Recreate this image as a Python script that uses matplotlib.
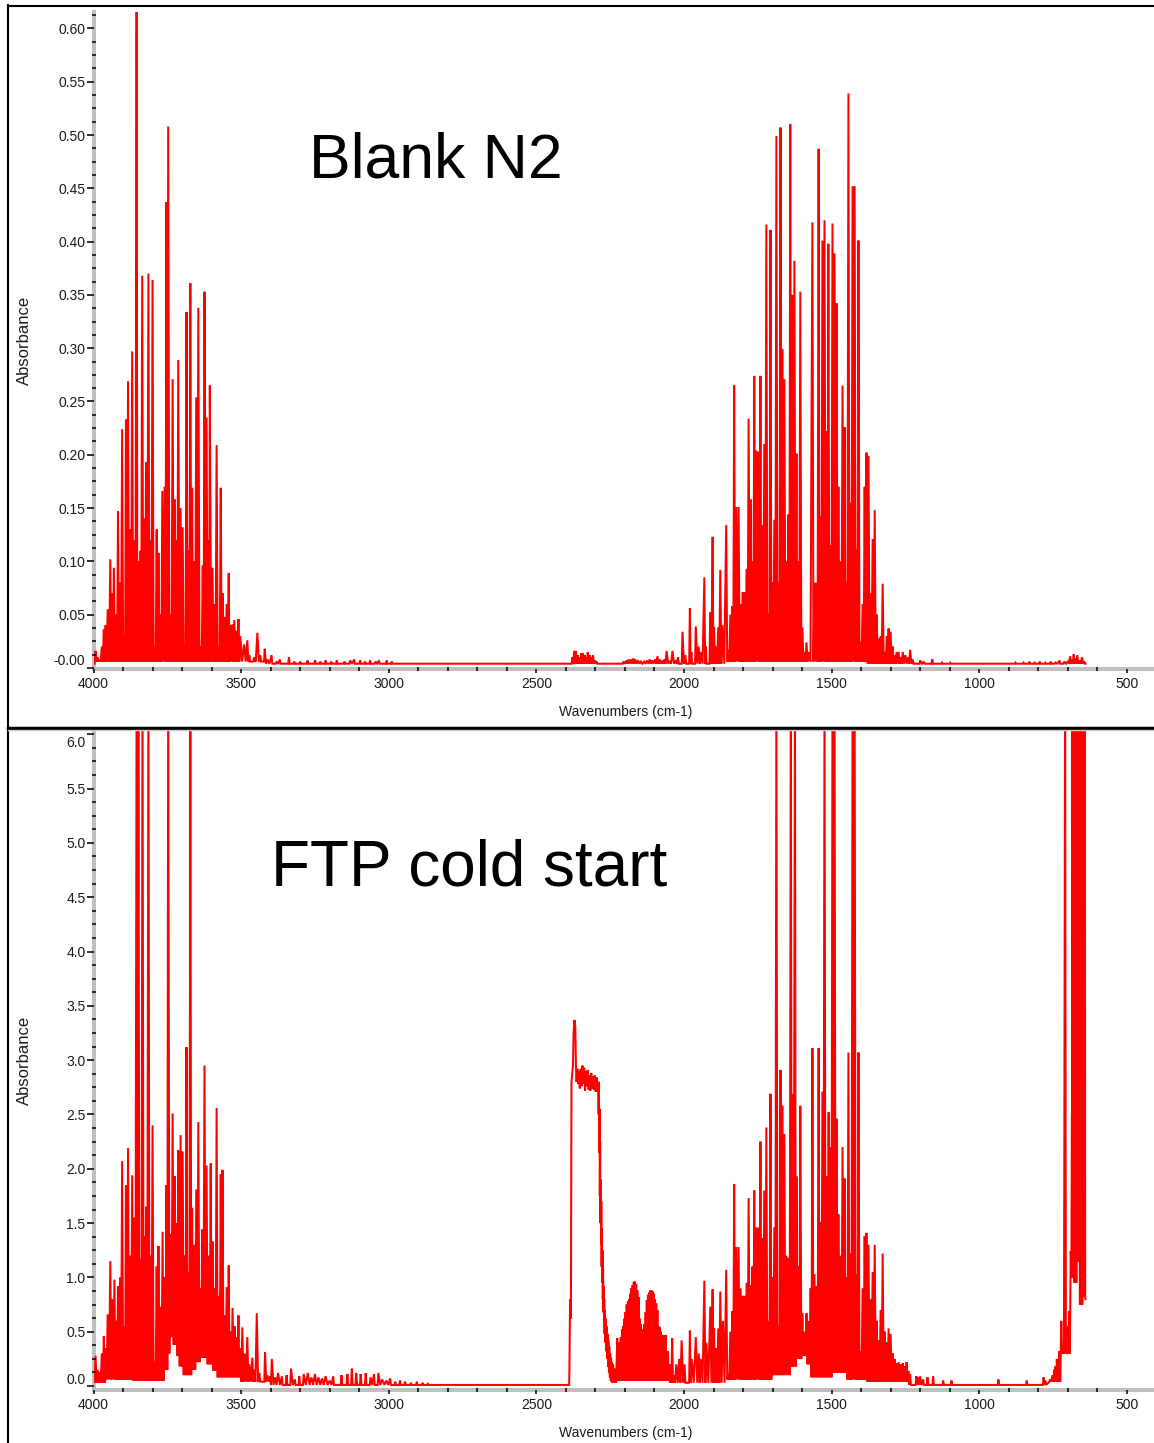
import numpy as np
import matplotlib
matplotlib.use("Agg")
import matplotlib.pyplot as plt
from matplotlib.ticker import FixedLocator, FixedFormatter, AutoMinorLocator
from matplotlib.lines import Line2D
from matplotlib.transforms import ScaledTranslation

plt.rcParams['font.family'] = ['Liberation Sans', 'DejaVu Sans']

# ---------------- data ----------------
# each entry: [wavenumber cm-1, absorbance at the line tip]
# "floor" = level the trace drops back to between lines, per region

X_TICKS = [4000, 3500, 3000, 2500, 2000, 1500, 1000, 500]
X_LABELS = ["4000", "3500", "3000", "2500", "2000", "1500", "1000", "500"]

TOP_Y_TICKS = [0.0, 0.05, 0.10, 0.15, 0.20, 0.25, 0.30, 0.35, 0.40, 0.45, 0.50, 0.55, 0.60]
TOP_Y_LABELS = ["-0.00", "0.05", "0.10", "0.15", "0.20", "0.25", "0.30", "0.35",
                "0.40", "0.45", "0.50", "0.55", "0.60"]
BOT_Y_TICKS = [0.0, 0.5, 1.0, 1.5, 2.0, 2.5, 3.0, 3.5, 4.0, 4.5, 5.0, 5.5, 6.0]
BOT_Y_LABELS = ["0.0", "0.5", "1.0", "1.5", "2.0", "2.5", "3.0", "3.5",
                "4.0", "4.5", "5.0", "5.5", "6.0"]

# --- Blank N2 ---
blank_water_hi = [
    [4000, 0.004], [3993, 0.016], [3986, 0.010], [3979, 0.008], [3972, 0.020], [3965, 0.036],
    [3959, 0.040], [3952, 0.055], [3943, 0.102], [3937, 0.070], [3931, 0.094], [3923, 0.050],
    [3917, 0.147], [3910, 0.080], [3903, 0.224], [3896, 0.030], [3890, 0.233], [3883, 0.269],
    [3876, 0.130], [3869, 0.297], [3862, 0.120], [3854, 0.620], [3849, 0.100], [3842, 0.110],
    [3835, 0.368], [3828, 0.140], [3822, 0.193], [3814, 0.370], [3807, 0.120], [3800, 0.364],
    [3793, 0.020], [3786, 0.130], [3780, 0.108], [3773, 0.050], [3767, 0.166], [3759, 0.170],
    [3753, 0.437], [3747, 0.508], [3739, 0.050], [3732, 0.271], [3725, 0.158], [3719, 0.120],
    [3713, 0.289], [3705, 0.150], [3698, 0.132], [3691, 0.020], [3685, 0.334], [3678, 0.110],
    [3672, 0.361], [3666, 0.169], [3659, 0.100], [3652, 0.254], [3645, 0.338], [3637, 0.020],
    [3630, 0.096], [3624, 0.353], [3617, 0.235], [3610, 0.120], [3606, 0.265], [3597, 0.094],
    [3590, 0.060], [3583, 0.209], [3576, 0.020], [3569, 0.169], [3563, 0.070], [3556, 0.048],
    [3549, 0.060], [3542, 0.089], [3537, 0.040], [3530, 0.041], [3523, 0.045], [3516, 0.035],
    [3509, 0.046], [3503, 0.030], [3490, 0.022], [3479, 0.026], [3472, 0.012], [3456, 0.010],
    [3445, 0.033], [3435, 0.012], [3420, 0.018], [3411, 0.008],
]
blank_noise = [
    [3397, 0.012], [3380, 0.006], [3369, 0.008], [3338, 0.010], [3320, 0.006], [3300, 0.006],
    [3275, 0.007], [3250, 0.007], [3232, 0.006], [3214, 0.007], [3195, 0.006], [3176, 0.007],
    [3150, 0.006], [3131, 0.007], [3117, 0.008], [3097, 0.007], [3080, 0.006], [3063, 0.007],
    [3045, 0.006], [3033, 0.007], [3007, 0.007], [2990, 0.006],
    [2378, 0.010], [2372, 0.016], [2366, 0.016], [2360, 0.012], [2354, 0.010], [2348, 0.014],
    [2342, 0.014], [2336, 0.012], [2330, 0.010], [2326, 0.015], [2320, 0.012], [2314, 0.010],
    [2308, 0.012], [2302, 0.007], [2296, 0.006],
    [2205, 0.006], [2195, 0.007], [2188, 0.008], [2180, 0.008], [2172, 0.009], [2165, 0.008],
    [2155, 0.007], [2146, 0.006], [2135, 0.006], [2125, 0.007], [2116, 0.008], [2108, 0.007],
    [2098, 0.008], [2090, 0.011], [2082, 0.008], [2072, 0.007], [2066, 0.008], [2059, 0.016],
    [2048, 0.006], [2039, 0.016], [2028, 0.007], [2020, 0.010],
]
blank_water_lo = [
    [2005, 0.034], [1995, 0.012], [1980, 0.056], [1975, 0.015], [1960, 0.039], [1950, 0.020],
    [1943, 0.015], [1931, 0.085], [1926, 0.020], [1911, 0.052], [1903, 0.123], [1898, 0.038],
    [1891, 0.020], [1884, 0.038], [1877, 0.092], [1870, 0.040], [1857, 0.134], [1850, 0.017],
    [1843, 0.050], [1836, 0.058], [1830, 0.265], [1823, 0.151], [1815, 0.151], [1808, 0.060],
    [1801, 0.071], [1795, 0.071], [1788, 0.093], [1781, 0.234], [1774, 0.158], [1768, 0.100],
    [1762, 0.274], [1755, 0.204], [1748, 0.203], [1741, 0.274], [1735, 0.134], [1728, 0.210],
    [1721, 0.416], [1714, 0.051], [1707, 0.411], [1701, 0.080], [1694, 0.139], [1687, 0.499],
    [1680, 0.080], [1673, 0.507], [1667, 0.299], [1660, 0.271], [1653, 0.100], [1646, 0.144],
    [1640, 0.510], [1633, 0.350], [1626, 0.382], [1619, 0.201], [1613, 0.100], [1606, 0.353],
    [1599, 0.038], [1592, 0.015], [1585, 0.024], [1578, 0.015], [1565, 0.418], [1558, 0.080],
    [1551, 0.080], [1544, 0.487], [1538, 0.142], [1531, 0.401], [1524, 0.420], [1517, 0.222],
    [1511, 0.398], [1504, 0.115], [1497, 0.417], [1490, 0.389], [1483, 0.342], [1477, 0.170],
    [1470, 0.100], [1463, 0.265], [1456, 0.226], [1450, 0.080], [1443, 0.539], [1436, 0.155],
    [1429, 0.452], [1422, 0.452], [1415, 0.111], [1409, 0.401], [1402, 0.024], [1395, 0.060],
    [1388, 0.170], [1382, 0.202], [1375, 0.199], [1368, 0.070], [1361, 0.121], [1354, 0.148],
    [1347, 0.050], [1341, 0.028], [1334, 0.030], [1327, 0.079], [1320, 0.015], [1313, 0.030],
    [1307, 0.037], [1300, 0.034], [1293, 0.020], [1287, 0.012], [1280, 0.015], [1273, 0.015],
    [1266, 0.010], [1259, 0.015], [1250, 0.012], [1241, 0.010], [1234, 0.017], [1225, 0.008],
]
blank_tail = [
    [1200, 0.007], [1188, 0.006], [1159, 0.008], [1126, 0.005], [1098, 0.005], [877, 0.005],
    [850, 0.005], [830, 0.006], [812, 0.005], [795, 0.006], [776, 0.005], [758, 0.006],
    [742, 0.005], [728, 0.007], [712, 0.006], [700, 0.006], [692, 0.011], [686, 0.008],
    [680, 0.013], [674, 0.009], [668, 0.012], [660, 0.007], [652, 0.010], [644, 0.006],
    [640, 0.004],
]
blank_floor_edges = [3990, 3420, 1860, 1380]
blank_floor_vals = [0.004, 0.006, 0.004, 0.006, 0.004]

# --- FTP cold start ---
ftp_water_hi = [
    [4000, 0.05], [3993, 0.28], [3986, 0.15], [3979, 0.13], [3972, 0.30], [3965, 0.46],
    [3959, 0.35], [3952, 0.66], [3943, 1.15], [3937, 0.80], [3929, 0.98], [3923, 0.60],
    [3917, 0.92], [3910, 1.00], [3903, 2.07], [3896, 0.55], [3890, 1.85], [3883, 2.19],
    [3876, 1.20], [3869, 1.94], [3862, 1.55], [3854, 6.5], [3848, 6.5], [3841, 1.17],
    [3834, 6.5], [3827, 1.38], [3822, 1.65], [3814, 6.5], [3807, 1.20], [3800, 2.40],
    [3793, 0.23], [3786, 1.10], [3780, 1.29], [3773, 0.73], [3766, 1.42], [3759, 1.00],
    [3753, 1.85], [3747, 6.5], [3739, 1.40], [3732, 2.51], [3725, 1.93], [3719, 1.50],
    [3713, 2.17], [3705, 2.31], [3698, 2.16], [3691, 1.20], [3685, 3.12], [3678, 1.05],
    [3672, 6.5], [3666, 1.64], [3659, 1.30], [3652, 1.81], [3645, 2.43], [3637, 0.90],
    [3632, 1.44], [3624, 2.95], [3617, 2.03], [3610, 1.20], [3603, 2.05], [3597, 1.33],
    [3590, 0.90], [3583, 2.56], [3576, 0.83], [3569, 1.95], [3563, 1.99], [3556, 0.65],
    [3549, 0.91], [3542, 1.11], [3536, 0.50], [3529, 0.72], [3522, 0.55], [3516, 0.45],
    [3509, 0.65], [3503, 0.35], [3496, 0.54], [3488, 0.30], [3479, 0.45], [3472, 0.20],
    [3462, 0.26], [3456, 0.15], [3447, 0.67], [3438, 0.12], [3419, 0.31], [3411, 0.10],
    [3402, 0.09],
]
ftp_noise = [
    [3396, 0.25], [3385, 0.08], [3375, 0.12], [3362, 0.09], [3346, 0.10], [3331, 0.16],
    [3318, 0.06], [3303, 0.09], [3288, 0.11], [3274, 0.12], [3262, 0.08], [3250, 0.11],
    [3238, 0.08], [3226, 0.07], [3214, 0.09], [3200, 0.05], [3188, 0.09], [3160, 0.10],
    [3140, 0.11], [3125, 0.16], [3110, 0.12], [3095, 0.11], [3078, 0.12], [3062, 0.08],
    [3050, 0.11], [3035, 0.12], [3022, 0.06], [3008, 0.05], [2995, 0.07], [2978, 0.04],
    [2962, 0.05], [2945, 0.04], [2925, 0.03], [2905, 0.04], [2885, 0.03], [2868, 0.02],
    [2394, 0.01],
]
ftp_floor_edges_a = [3960, 3870, 3760, 3750, 3740, 3730, 3720, 3710, 3700, 3665, 3650,
                     3635, 3615, 3600, 3580, 3500, 3400]
ftp_floor_vals_a = [0.03, 0.06, 0.05, 0.15, 0.30, 0.45, 0.38, 0.28, 0.18, 0.10, 0.15,
                    0.22, 0.26, 0.20, 0.14, 0.08, 0.04, 0.01]

# CO2 band: saturated-looking plateau, traced point by point
co2_trace = [
    [2392, 0.01], [2389, 0.01], [2388, 0.15], [2386, 0.76], [2384, 0.80], [2383, 0.62],
    [2381, 2.80], [2379, 2.86], [2376, 2.95], [2374, 3.25], [2371, 3.37], [2368, 3.30],
    [2366, 2.95], [2364, 2.80], [2361, 2.92], [2359, 2.78], [2356, 2.90], [2353, 2.74],
    [2350, 2.92], [2347, 2.76], [2344, 2.95], [2341, 2.78], [2338, 2.93], [2335, 2.72],
    [2332, 2.90], [2329, 2.76], [2326, 2.91], [2323, 2.73], [2320, 2.86], [2317, 2.72],
    [2314, 2.88], [2311, 2.74], [2308, 2.85], [2305, 2.73], [2302, 2.86], [2299, 2.71],
    [2296, 2.84], [2293, 2.74], [2290, 2.70], [2289, 2.50], [2288, 2.80], [2287, 2.15],
    [2286, 2.55], [2285, 1.75], [2284, 2.25], [2283, 1.50], [2282, 1.90], [2281, 1.30],
    [2280, 1.70], [2279, 1.10], [2278, 1.45], [2277, 0.95], [2276, 1.25], [2275, 0.80],
    [2274, 1.08], [2273, 0.68], [2272, 0.92], [2271, 0.58], [2270, 0.80], [2269, 0.48],
    [2268, 0.70], [2266, 0.40], [2265, 0.62], [2263, 0.32], [2262, 0.55], [2260, 0.25],
    [2259, 0.48], [2257, 0.18], [2256, 0.42], [2254, 0.12], [2253, 0.36], [2251, 0.08],
    [2250, 0.30], [2248, 0.05], [2247, 0.26], [2245, 0.04], [2244, 0.22], [2242, 0.03],
    [2240, 0.20], [2238, 0.03], [2236, 0.16], [2234, 0.03], [2232, 0.14], [2230, 0.03],
]

ftp_co_and_water = [
    [2226, 0.44], [2222, 0.15], [2218, 0.40], [2214, 0.45], [2210, 0.52], [2206, 0.55],
    [2202, 0.62], [2198, 0.68], [2194, 0.75], [2190, 0.78], [2186, 0.80], [2182, 0.85],
    [2178, 0.90], [2174, 0.93], [2170, 0.96], [2166, 0.96], [2162, 0.94], [2158, 0.88],
    [2154, 0.82], [2150, 0.62], [2146, 0.57], [2142, 0.47], [2138, 0.52], [2134, 0.57],
    [2130, 0.68], [2126, 0.79], [2122, 0.84], [2118, 0.86], [2114, 0.88], [2110, 0.88],
    [2106, 0.87], [2102, 0.85], [2098, 0.80], [2094, 0.76], [2090, 0.70], [2086, 0.55],
    [2082, 0.54], [2078, 0.50], [2074, 0.45], [2070, 0.47], [2066, 0.40], [2062, 0.47],
    [2058, 0.30], [2054, 0.32], [2050, 0.15], [2045, 0.20], [2040, 0.44], [2034, 0.10],
    [2026, 0.20], [2016, 0.25], [2008, 0.42], [1998, 0.20], [1980, 0.51], [1974, 0.25],
    [1960, 0.45], [1950, 0.30], [1943, 0.25], [1931, 0.97], [1924, 0.40], [1911, 0.73],
    [1903, 0.89], [1898, 0.53], [1891, 0.35], [1884, 0.53], [1877, 0.87], [1868, 0.60],
    [1857, 1.07], [1850, 0.11], [1843, 0.50], [1836, 0.69], [1830, 1.86], [1823, 1.28],
    [1815, 1.28], [1808, 0.90], [1801, 0.83], [1795, 0.83], [1788, 0.95], [1781, 1.73],
    [1774, 0.93], [1768, 1.10], [1762, 1.80], [1755, 1.46], [1748, 1.46], [1741, 2.25],
    [1735, 1.36], [1728, 1.80], [1721, 2.38], [1714, 0.60], [1707, 2.69], [1701, 1.00],
    [1694, 1.46], [1687, 6.5], [1680, 0.56], [1673, 2.91], [1667, 2.58], [1660, 2.32],
    [1653, 1.20], [1646, 1.18], [1638, 6.5], [1633, 2.69], [1624, 6.5], [1619, 1.93],
    [1612, 1.10], [1606, 2.58], [1599, 0.67], [1592, 0.50], [1585, 0.67], [1578, 0.60],
    [1571, 0.90], [1565, 3.11], [1558, 1.03], [1551, 0.92], [1544, 3.11], [1538, 1.51],
    [1531, 2.71], [1524, 6.5], [1517, 1.93], [1510, 2.52], [1504, 2.20], [1497, 6.5],
    [1490, 6.5], [1483, 2.46], [1477, 1.58], [1470, 1.20], [1463, 2.20], [1456, 1.91],
    [1450, 1.00], [1443, 3.07], [1436, 1.22], [1429, 6.5], [1422, 6.5], [1415, 1.03],
    [1409, 3.07], [1402, 0.32], [1395, 0.90], [1388, 1.38], [1382, 1.41], [1375, 1.30],
    [1368, 0.80], [1361, 1.05], [1354, 1.30], [1347, 0.60], [1341, 0.42], [1334, 0.70],
    [1327, 1.22], [1320, 0.50], [1314, 0.40], [1307, 0.53], [1300, 0.48], [1293, 0.30],
    [1287, 0.25], [1280, 0.21], [1273, 0.22], [1266, 0.20], [1259, 0.21], [1253, 0.18],
    [1246, 0.22], [1240, 0.14], [1234, 0.11],
]
ftp_tail = [
    [1213, 0.09], [1205, 0.08], [1200, 0.09], [1190, 0.06], [1175, 0.08], [1156, 0.09],
    [1122, 0.05], [1094, 0.05], [935, 0.06], [839, 0.05], [782, 0.08], [776, 0.05],
    [760, 0.06], [752, 0.10], [746, 0.15], [742, 0.18], [737, 0.25], [733, 0.22],
    [729, 0.32], [722, 0.60], [717, 0.36], [709, 6.5], [704, 0.45], [700, 0.55],
    [696, 0.69], [690, 1.24], [686, 2.50], [684, 6.5], [682, 6.5], [680, 6.5], [678, 6.5],
    [676, 6.5], [674, 6.5], [672, 6.5], [670, 6.5], [668, 6.5], [666, 6.5], [664, 6.5],
    [662, 6.5], [660, 6.5], [658, 6.5], [656, 6.5], [654, 6.5], [652, 6.5], [650, 6.5],
    [648, 6.5], [646, 6.5], [644, 6.5], [642, 6.5], [640, 0.80],
]
ftp_floor_edges_c = [2050, 1860, 1700, 1640, 1620, 1600, 1585, 1570, 1500, 1450, 1380,
                     1240, 765, 720, 690, 680, 670, 660, 650]
ftp_floor_vals_c = [0.05, 0.03, 0.06, 0.10, 0.18, 0.25, 0.28, 0.20, 0.08, 0.12, 0.06,
                    0.04, 0.01, 0.04, 0.30, 1.00, 0.95, 1.15, 0.75, 0.82]


def floor_at(w, edges, vals):
    i = 0
    while i < len(edges) and w < edges[i]:
        i += 1
    return vals[i]


def trace(lines, edges, vals, gap=14.0, half=2.5):
    """stick lines -> zig-zag trace; close lines meet at the floor, far ones get flat runs"""
    lines = sorted(lines, key=lambda p: -p[0])
    xs, ys = [], []
    for i, (w, a) in enumerate(lines):
        xs.append(w)
        ys.append(a)
        if i + 1 < len(lines):
            nxt = lines[i + 1][0]
            if w - nxt <= gap:
                pts = [0.5 * (w + nxt)]
            else:
                pts = [w - half, nxt + half]
            for p in pts:
                xs.append(p)
                ys.append(floor_at(p, edges, vals))
    return xs, ys


W, H = 1154, 1443
fig = plt.figure(figsize=(W / 100, H / 100), dpi=100)


def px_axes(left, top, right, bottom):
    return fig.add_axes([left / W, 1 - bottom / H, (right - left) / W, (bottom - top) / H])


ax1 = px_axes(93.5, 12, 1154, 668.5)
ax2 = px_axes(93.5, 731, 1154, 1389.5)

# top spectrum
bx, by = trace(blank_water_hi + blank_noise + blank_water_lo + blank_tail,
               blank_floor_edges, blank_floor_vals)
ax1.plot(bx, by, color='#ff0000', lw=1.45, solid_joinstyle='miter')

# bottom spectrum, three pieces
ax_, ay_ = trace(ftp_water_hi + ftp_noise, ftp_floor_edges_a, ftp_floor_vals_a)
cx = [p[0] for p in co2_trace]
cy = [p[1] for p in co2_trace]
dx, dy = trace(ftp_co_and_water + ftp_tail, ftp_floor_edges_c, ftp_floor_vals_c)
ax2.plot(ax_ + cx + dx, ay_ + cy + dy, color='#ff0000', lw=1.45, solid_joinstyle='miter')

ax1.set_ylim(-0.0005, 0.6154)
ax2.set_ylim(-0.032, 6.03)

for ax, yt, yl in ((ax1, TOP_Y_TICKS, TOP_Y_LABELS), (ax2, BOT_Y_TICKS, BOT_Y_LABELS)):
    ax.set_xlim(4000, 408)
    ax.set_axisbelow(False)
    for s in ('top', 'right'):
        ax.spines[s].set_visible(False)
    for s in ('left', 'bottom'):
        ax.spines[s].set_color('#c0c0c0')
        ax.spines[s].set_linewidth(2.9)
        ax.spines[s].set_zorder(1.9)
    ax.xaxis.set_major_locator(FixedLocator(X_TICKS))
    ax.xaxis.set_major_formatter(FixedFormatter(X_LABELS))
    ax.xaxis.set_minor_locator(AutoMinorLocator(5))
    ax.yaxis.set_major_locator(FixedLocator(yt))
    ax.yaxis.set_major_formatter(FixedFormatter(yl))
    ax.yaxis.set_minor_locator(AutoMinorLocator(4))
    ax.tick_params(axis='x', which='major', direction='out', length=2.9, width=1.1,
                   color='black', pad=3.4, labelsize=10, labelcolor='#1a1a1a')
    ax.tick_params(axis='y', which='major', direction='out', length=5.0, width=1.1,
                   color='black', pad=0.8, labelsize=10, labelcolor='#1a1a1a')
    ax.tick_params(which='minor', direction='inout', length=2.2, width=1.1, color='black')
    ax.set_xlabel("Wavenumbers (cm-1)", fontsize=10, color='#1a1a1a')
    ax.set_ylabel("Absorbance", fontsize=12, color='#1a1a1a')
    ax.xaxis.set_label_coords(0.502, -0.055)
    ax.yaxis.set_label_coords(-0.058, 0.5)

# edge labels sit nudged inside the axis span, like the original software does
up = ScaledTranslation(0, 8 / 100, fig.dpi_scale_trans)
down = ScaledTranslation(0, -7 / 100, fig.dpi_scale_trans)
lab = ax1.yaxis.get_major_ticks()[0].label1
lab.set_transform(lab.get_transform() + up)
lab = ax2.yaxis.get_major_ticks()[0].label1
lab.set_transform(lab.get_transform() + up)
lab = ax2.yaxis.get_major_ticks()[-1].label1
lab.set_transform(lab.get_transform() + down)

fig.text(309 / W, 1 - 177 / H, "Blank N2", fontsize=45, ha='left', va='baseline')
fig.text(271 / W, 1 - 886 / H, "FTP cold start", fontsize=46, ha='left', va='baseline')

# panel frames
fig.add_artist(Line2D([7.7 / W, 1], [1 - 6 / H, 1 - 6 / H], color='black', lw=1.5))
fig.add_artist(Line2D([7.7 / W, 7.7 / W], [0, 1 - 5 / H], color='black', lw=1.5))
fig.add_artist(Line2D([7.7 / W, 1], [1 - 727.5 / H, 1 - 727.5 / H], color='black', lw=2.5))
fig.add_artist(Line2D([7.7 / W, 1], [1 - 730.5 / H, 1 - 730.5 / H], color='#c8c8c8', lw=1.0))

fig.savefig("out.png", dpi=100)
